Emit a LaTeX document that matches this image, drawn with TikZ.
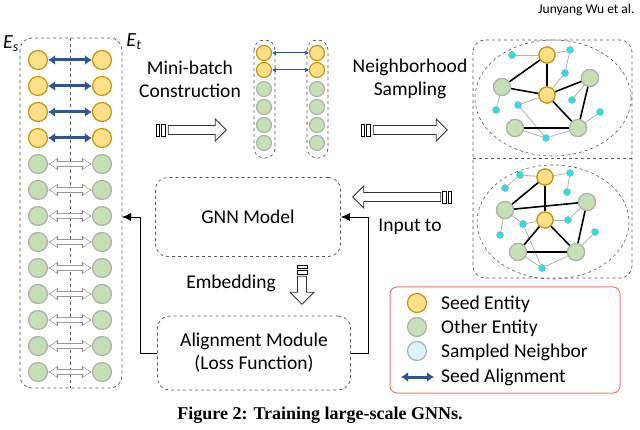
\documentclass[tikz,border=0pt]{standalone}
\usepackage{fontspec}
\setmainfont{Carlito}
\newfontfamily\capfont{Liberation Serif}
\usetikzlibrary{arrows.meta,shapes.arrows}
\definecolor{seedfill}{HTML}{FFE08A}
\definecolor{seeddraw}{HTML}{C8960C}
\definecolor{othfill}{HTML}{C5E0B4}
\definecolor{othdraw}{HTML}{B0B0B0}
\definecolor{alignblue}{HTML}{2F5597}
\definecolor{sampcyan}{HTML}{1CE3F0}
\tikzset{
  seed/.style={circle,fill=seedfill,draw=seeddraw,line width=1.2pt,minimum size=#1,inner sep=0pt},
  other/.style={circle,fill=othfill,draw=othdraw,line width=1.2pt,minimum size=#1,inner sep=0pt},
  samp/.style={circle,fill=sampcyan,draw=othdraw,line width=0.6pt,minimum size=7pt,inner sep=0pt},
  box/.style={draw=gray!70!black,dashed,rounded corners=12pt,line width=0.7pt},
  lbl/.style={font=\fontsize{19.5}{23}\selectfont,align=center,inner sep=0pt},
  salign/.style={alignblue,line width=3pt,{Latex[length=7pt,width=10pt]}-{Latex[length=7pt,width=10pt]}},
  galign/.style={alignblue,line width=1pt,{Latex[length=4pt,width=5pt]}-{Latex[length=4pt,width=5pt]}},
  bigarrow/.style={single arrow,draw=black!80,fill=white,line width=0.8pt,minimum height=#1,minimum width=22pt,single arrow head extend=5pt,inner sep=3pt},
  ent/.style={black,line width=1.6pt},
  nb/.style={gray!60,line width=0.8pt},
  flow/.style={line width=0.8pt,-{Latex[length=9pt,width=8pt]}}
}
\begin{document}
\begin{tikzpicture}[x=1pt,y=-1pt]
\useasboundingbox (0,0) rectangle (640,430);
\node[anchor=north east,font=\fontsize{13.5}{15}\selectfont] (hdr) at (638,1) {Junyang Wu et al.};

% left: full entity lists
\draw[box] (20,38) rectangle (122,388);
\draw[dashed,gray!70!black,line width=0.6pt] (70,38) -- (70,388);
\node[font=\fontsize{20}{22}\selectfont] (es) at (11,44) {\textit{E}\textsubscript{\textit{s}}};
\node[font=\fontsize{20}{22}\selectfont] (et) at (134,42) {\textit{E}\textsubscript{\textit{t}}};
\foreach \i in {0,...,12}{
  \pgfmathsetmacro\yy{60+26*\i}
  \ifnum\i<4
    \node[seed=19pt] (l\i) at (38,\yy) {};
    \node[seed=19pt] (r\i) at (102,\yy) {};
    \draw[salign] (l\i) -- (r\i);
  \else
    \node[other=19pt] (l\i) at (38,\yy) {};
    \node[other=19pt] (r\i) at (102,\yy) {};
    \draw[gray!80,line width=6pt,{Latex[length=10pt,width=14pt]}-{Latex[length=10pt,width=14pt]}] (l\i) -- (r\i);
    \draw[white,line width=3.6pt,shorten <=1.6pt,shorten >=1.6pt,{Latex[length=7pt,width=10pt]}-{Latex[length=7pt,width=10pt]}] (l\i) -- (r\i);
  \fi}

% mini-batch
\node[lbl] (mb) at (190,79) {Mini-batch\\Construction};
\node[bigarrow=58pt] (a1) at (195,130) {};
\draw[line width=0.8pt,fill=white] (156,124) rectangle (159,136) (161,124) rectangle (165,136);
\draw[box,rounded corners=10pt] (254,40) rectangle (275,158);
\draw[box,rounded corners=10pt] (307,40) rectangle (328,158);
\foreach \j/\yy in {0/53,1/70,2/89,3/107,4/125,5/143}{
  \ifnum\j<2
    \node[seed=15pt] (ml\j) at (264,\yy) {};
    \node[seed=15pt] (mr\j) at (317,\yy) {};
  \else
    \node[other=15pt] (ml\j) at (264,\yy) {};
    \node[other=15pt] (mr\j) at (317,\yy) {};
  \fi}
\draw[galign] (ml0) -- (mr0);
\draw[galign] (ml1) -- (mr1);

% neighborhood sampling
\node[lbl] (ns) at (410,79) {Neighborhood\\Sampling};
\node[bigarrow=74pt] (a2) at (408,130) {};
\draw[line width=0.8pt,fill=white] (361,124) rectangle (364,136) (366,124) rectangle (370,136);
\draw[box] (473,40) rectangle (632,278);
\draw[dashed,gray!70!black,line width=0.6pt] (473,158) -- (632,158);
\draw[dashed,gray!70!black,line width=0.6pt] (553,98) ellipse (78 and 58);
\draw[dashed,gray!70!black,line width=0.6pt] (553,222) ellipse (76 and 57);

% top sampled graph
\node[seed=16pt] (ty1) at (547,55) {};
\node[seed=16pt] (ty2) at (547,95) {};
\node[other=17pt] (tg1) at (502,87) {};
\node[other=17pt] (tg2) at (590,78) {};
\node[other=17pt] (tg3) at (515,128) {};
\node[other=17pt] (tg4) at (578,128) {};
\foreach \n/\p in {c1/{512,55},c2/{570,50},c3/{565,73},c4/{572,100},c5/{496,110},c6/{518,105},c7/{600,112},c8/{546,138}}
  \node[samp] (t\n) at (\p) {};
\foreach \a/\b in {ty1/tc1,ty1/tc2,tc2/tc3,tc3/ty2,tg1/tc5,ty2/tc6,tc6/tc8,tc8/tg4,tg3/tc8,tg2/tc4,tg4/tc7}
  \draw[nb] (\a) -- (\b);
\foreach \a/\b in {ty1/ty2,ty1/tg1,tg1/ty2,ty2/tg2,ty2/tg4,tg2/tg4,tg3/tg4}
  \draw[ent] (\a) -- (\b);

% bottom sampled graph
\node[seed=16pt] (by1) at (545,177) {};
\node[seed=16pt] (by2) at (545,220) {};
\node[other=17pt] (bg1) at (505,210) {};
\node[other=17pt] (bg2) at (587,202) {};
\node[other=17pt] (bg3) at (518,252) {};
\node[other=17pt] (bg4) at (576,252) {};
\foreach \n/\p in {c1/{520,175},c2/{505,188},c3/{570,173},c4/{567,192},c5/{500,235},c6/{523,224},c7/{595,232},c8/{542,268},c9/{568,220}}
  \node[samp] (b\n) at (\p) {};
\foreach \a/\b in {by1/bc1,bc1/bc2,by1/bc3,bc3/bc4,bg1/bc5,bg1/bc6,bc6/bc8,bc8/bg3,bc8/bg4,bc9/by2,bc9/bg2,bg4/bc7,bc6/by2}
  \draw[nb] (\a) -- (\b);
\foreach \a/\b in {by1/bg1,by1/by2,bg1/bg2,by2/bg3,by2/bg4,bg3/bg4,bg2/bg4}
  \draw[ent] (\a) -- (\b);
% redraw nodes on top of the edges
\foreach \n in {ty1,ty2,by1,by2}{\node[seed=16pt] at (\n) {};}
\foreach \n in {tg1,tg2,tg3,tg4,bg1,bg2,bg3,bg4}{\node[other=17pt] at (\n) {};}

% model boxes
\node[box,minimum width=185pt,minimum height=79pt,lbl] (gnn) at (248,217) {GNN Model};
\node[box,minimum width=193pt,minimum height=74pt,lbl] (am) at (254,353) {Alignment Module\\(Loss Function)};
\node[lbl] (emb) at (231,283) {Embedding};
\node[single arrow,draw=black!80,fill=white,line width=0.8pt,minimum height=28pt,minimum width=24pt,single arrow head extend=4pt,shape border rotate=270,inner sep=2pt] (a3) at (302,288) {};
\draw[line width=0.8pt,fill=white] (297,265) rectangle (307,268) (297,270) rectangle (307,274);
\node[lbl] (inp) at (410,227) {Input to};
\node[bigarrow=88pt,shape border rotate=180] (a4) at (399,197) {};
\draw[line width=0.8pt,fill=white] (442,191) rectangle (446,203) (448,191) rectangle (451,203);
\coordinate (lp) at (140,217);
\coordinate (rp) at (368,217);
\draw[line width=0.8pt] (am.west) -| (lp);
\draw[flow] (lp) -- (122,217);
\draw[line width=0.8pt] (am.east) -| (rp);
\draw[flow] (rp) -- (gnn.east);

% legend
\draw[draw=red!55,line width=1pt,rounded corners=7pt] (390,287) rectangle (620,393);
\node[seed=19pt] (k1) at (417,303) {};
\node[other=19pt] (k2) at (417,327) {};
\node[circle,fill=cyan!15,draw=othdraw,line width=1.2pt,minimum size=19pt] (k3) at (417,351) {};
\coordinate (k4a) at (401,377);
\coordinate (k4b) at (434,377);
\draw[salign] (k4a) -- (k4b);
\node[lbl,anchor=west] (t1) at (441,304) {Seed Entity};
\node[lbl,anchor=west] (t2) at (441,328) {Other Entity};
\node[lbl,anchor=west] (t3) at (441,352) {Sampled Neighbor};
\node[lbl,anchor=west] (t4) at (441,377) {Seed Alignment};

\node[font=\capfont\bfseries\fontsize{18}{20}\selectfont] (cap) at (320,415) {Figure 2: Training large-scale GNNs.};
\end{tikzpicture}
\end{document}
